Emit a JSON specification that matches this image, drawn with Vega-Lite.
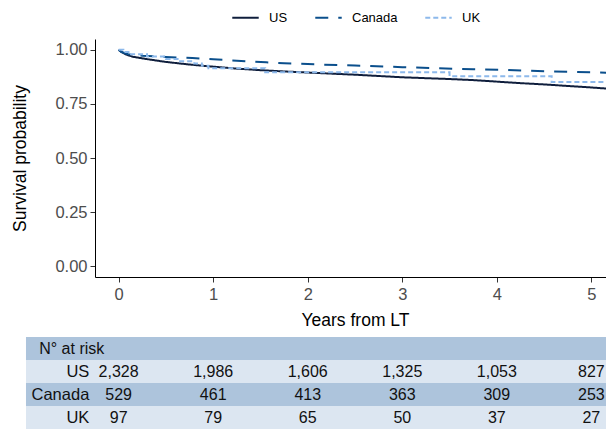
{
  "$schema": "https://vega.github.io/schema/vega-lite/v6.json",
  "padding": {"left": 11, "top": 3, "right": 0, "bottom": 0},
  "spacing": 8,
  "config": {"view": {"stroke": null}, "font": "Liberation Sans"},
  "datasets": {
    "surv": [
      {"country": "US", "t": 0, "s": 1.0}, {"country": "US", "t": 0.03, "s": 0.99}, {"country": "US", "t": 0.08, "s": 0.978}, {"country": "US", "t": 0.15, "s": 0.968}, {"country": "US", "t": 0.3, "s": 0.957}, {"country": "US", "t": 0.5, "s": 0.944}, {"country": "US", "t": 0.75, "s": 0.932}, {"country": "US", "t": 1.0, "s": 0.922}, {"country": "US", "t": 1.25, "s": 0.913}, {"country": "US", "t": 1.5, "s": 0.906}, {"country": "US", "t": 1.75, "s": 0.9}, {"country": "US", "t": 2.0, "s": 0.895}, {"country": "US", "t": 2.25, "s": 0.89}, {"country": "US", "t": 2.5, "s": 0.885}, {"country": "US", "t": 2.75, "s": 0.879}, {"country": "US", "t": 3.0, "s": 0.873}, {"country": "US", "t": 3.25, "s": 0.869}, {"country": "US", "t": 3.5, "s": 0.865}, {"country": "US", "t": 3.75, "s": 0.86}, {"country": "US", "t": 4.0, "s": 0.853}, {"country": "US", "t": 4.25, "s": 0.846}, {"country": "US", "t": 4.5, "s": 0.84}, {"country": "US", "t": 4.75, "s": 0.833}, {"country": "US", "t": 5.0, "s": 0.826}, {"country": "US", "t": 5.25, "s": 0.818},
      {"country": "Canada", "t": 0, "s": 1.0}, {"country": "Canada", "t": 0.03, "s": 0.99}, {"country": "Canada", "t": 0.1, "s": 0.98}, {"country": "Canada", "t": 0.25, "s": 0.973}, {"country": "Canada", "t": 0.5, "s": 0.967}, {"country": "Canada", "t": 0.78, "s": 0.962}, {"country": "Canada", "t": 1.0, "s": 0.956}, {"country": "Canada", "t": 1.25, "s": 0.95}, {"country": "Canada", "t": 1.56, "s": 0.942}, {"country": "Canada", "t": 1.75, "s": 0.938}, {"country": "Canada", "t": 2.0, "s": 0.934}, {"country": "Canada", "t": 2.5, "s": 0.927}, {"country": "Canada", "t": 3.0, "s": 0.92}, {"country": "Canada", "t": 3.36, "s": 0.915}, {"country": "Canada", "t": 3.75, "s": 0.91}, {"country": "Canada", "t": 4.06, "s": 0.907}, {"country": "Canada", "t": 4.6, "s": 0.9}, {"country": "Canada", "t": 5.0, "s": 0.896}, {"country": "Canada", "t": 5.25, "s": 0.893}
    ],
    "uk": [
      {"country": "UK", "t": 0, "s": 1.0}, {"country": "UK", "t": 0.05, "s": 0.99}, {"country": "UK", "t": 0.12, "s": 0.979}, {"country": "UK", "t": 0.3, "s": 0.969}, {"country": "UK", "t": 0.5, "s": 0.958}, {"country": "UK", "t": 0.65, "s": 0.947}, {"country": "UK", "t": 0.8, "s": 0.937}, {"country": "UK", "t": 0.88, "s": 0.926}, {"country": "UK", "t": 0.95, "s": 0.915}, {"country": "UK", "t": 1.55, "s": 0.896}, {"country": "UK", "t": 3.5, "s": 0.878}, {"country": "UK", "t": 4.58, "s": 0.851}, {"country": "UK", "t": 5.25, "s": 0.851}
    ],
    "rows": [
      {"row": "N° at risk"}, {"row": "US"}, {"row": "Canada"}, {"row": "UK"}
    ],
    "risk": [
      {"country": "US", "t": 0, "n": "2,328"}, {"country": "US", "t": 1, "n": "1,986"}, {"country": "US", "t": 2, "n": "1,606"}, {"country": "US", "t": 3, "n": "1,325"}, {"country": "US", "t": 4, "n": "1,053"}, {"country": "US", "t": 5, "n": "827"},
      {"country": "Canada", "t": 0, "n": "529"}, {"country": "Canada", "t": 1, "n": "461"}, {"country": "Canada", "t": 2, "n": "413"}, {"country": "Canada", "t": 3, "n": "363"}, {"country": "Canada", "t": 4, "n": "309"}, {"country": "Canada", "t": 5, "n": "253"},
      {"country": "UK", "t": 0, "n": "97"}, {"country": "UK", "t": 1, "n": "79"}, {"country": "UK", "t": 2, "n": "65"}, {"country": "UK", "t": 3, "n": "50"}, {"country": "UK", "t": 4, "n": "37"}, {"country": "UK", "t": 5, "n": "27"}
    ]
  },
  "vconcat": [
    {
      "width": 520,
      "height": 238,
      "layer": [
        {
          "data": {"name": "surv"},
          "mark": {"type": "line", "strokeWidth": 2, "interpolate": "linear"},
          "encoding": {
            "x": {"field": "t", "type": "quantitative", "scale": {"domain": [-0.25, 5.25], "nice": false, "zero": false},
              "axis": {"values": [0, 1, 2, 3, 4, 5], "format": "d", "title": "Years from LT", "grid": false, "domainColor": "#000000", "tickColor": "#333333", "tickSize": 5, "labelFontSize": 16.5, "labelColor": "#4d4d4d", "labelPadding": 4, "titleFontSize": 17.5, "titleFontWeight": "normal", "titleColor": "#000000", "titlePadding": 9}},
            "y": {"field": "s", "type": "quantitative", "scale": {"domain": [-0.05, 1.05], "nice": false, "zero": false},
              "axis": {"values": [0, 0.25, 0.5, 0.75, 1], "format": ".2f", "title": "Survival probability", "grid": false, "domainColor": "#000000", "tickColor": "#333333", "tickSize": 5, "labelFontSize": 16.5, "labelColor": "#4d4d4d", "labelPadding": 3, "titleFontSize": 17.5, "titleFontWeight": "normal", "titleColor": "#000000", "titlePadding": 25}},
            "color": {"field": "country", "type": "nominal", "scale": {"domain": ["US", "Canada", "UK"], "range": ["#0f1e3c", "#0b4f8c", "#8db9eb"]},
              "legend": {"title": null, "orient": "none", "legendX": 136, "legendY": -36, "direction": "horizontal", "symbolType": "stroke", "symbolStrokeWidth": 2, "symbolSize": 700, "labelFontSize": 13, "labelColor": "#000000", "labelOffset": 9, "columnPadding": 23}},
            "strokeDash": {"field": "country", "type": "nominal", "scale": {"domain": ["US", "Canada", "UK"], "range": [[1, 0], [13, 10], [5, 3]]},
              "legend": {"title": null, "orient": "none", "legendX": 136, "legendY": -36, "direction": "horizontal", "symbolType": "stroke", "symbolStrokeWidth": 2, "symbolSize": 700, "labelFontSize": 13, "labelColor": "#000000", "labelOffset": 9, "columnPadding": 23}}
          }
        },
        {
          "data": {"name": "uk"},
          "mark": {"type": "line", "strokeWidth": 2, "interpolate": "step-after"},
          "encoding": {
            "x": {"field": "t", "type": "quantitative"},
            "y": {"field": "s", "type": "quantitative"},
            "color": {"field": "country", "type": "nominal"},
            "strokeDash": {"field": "country", "type": "nominal"}
          }
        },
        {
          "mark": {"type": "rule", "color": "#000000", "strokeWidth": 1},
          "encoding": {"x": {"datum": -0.25}, "x2": {"datum": 5.25}, "y": {"datum": 1.05}}
        },
        {
          "mark": {"type": "text", "align": "left", "baseline": "middle", "fontSize": 14.5, "fontStyle": "italic", "color": "#000000"},
          "encoding": {"x": {"datum": 0.25}, "y": {"datum": 0.2}, "text": {"value": "p"}}
        },
        {
          "mark": {"type": "text", "align": "left", "baseline": "middle", "fontSize": 14.5, "dx": 8.5, "color": "#000000"},
          "encoding": {"x": {"datum": 0.25}, "y": {"datum": 0.2}, "text": {"value": " = 0.00045"}}
        }
      ]
    },
    {
      "width": 520,
      "height": 92,
      "layer": [
        {
          "data": {"name": "rows"},
          "mark": {"type": "rect"},
          "encoding": {
            "x": {"datum": -0.98, "type": "quantitative", "scale": {"domain": [-0.25, 5.25], "nice": false, "zero": false}, "axis": null},
            "x2": {"datum": 5.25},
            "y": {"field": "row", "type": "nominal", "scale": {"domain": ["N° at risk", "US", "Canada", "UK"], "paddingInner": 0, "paddingOuter": 0}, "axis": null},
            "fill": {"field": "row", "type": "nominal", "scale": {"domain": ["N° at risk", "US", "Canada", "UK"], "range": ["#adc4dc", "#dce6f1", "#adc4dc", "#dce6f1"]}, "legend": null}
          }
        },
        {
          "data": {"name": "rows"},
          "transform": [{"filter": "datum.row === 'N° at risk'"}],
          "mark": {"type": "text", "align": "left", "baseline": "middle", "fontSize": 16, "color": "#111111"},
          "encoding": {"x": {"datum": -0.84}, "y": {"field": "row", "type": "nominal"}, "text": {"field": "row"}}
        },
        {
          "data": {"name": "rows"},
          "transform": [{"filter": "datum.row !== 'N° at risk'"}],
          "mark": {"type": "text", "align": "right", "baseline": "middle", "fontSize": 16.5, "color": "#111111"},
          "encoding": {"x": {"datum": -0.31}, "y": {"field": "row", "type": "nominal"}, "text": {"field": "row"}}
        },
        {
          "data": {"name": "risk"},
          "mark": {"type": "text", "align": "center", "baseline": "middle", "fontSize": 16, "color": "#111111"},
          "encoding": {"x": {"field": "t", "type": "quantitative"}, "y": {"field": "country", "type": "nominal"}, "text": {"field": "n"}}
        }
      ]
    }
  ]
}
